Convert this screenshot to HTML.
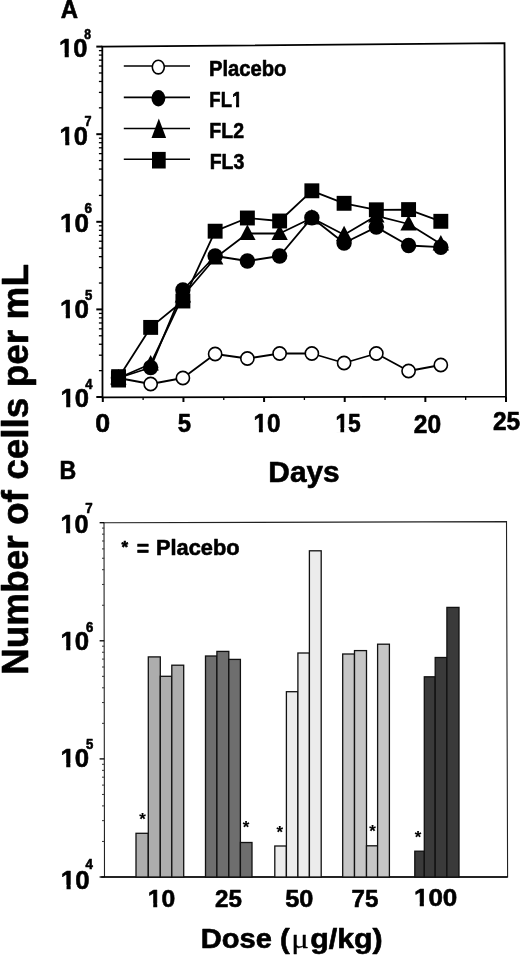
<!DOCTYPE html>
<html lang="en"><head><meta charset="utf-8"><title>Figure</title>
<style>
html,body{margin:0;padding:0;background:#fff;}
svg{display:block;font-family:"Liberation Sans", sans-serif;fill:#000;will-change:transform;}
text{stroke:#000;stroke-width:0.6px;stroke-linejoin:round;}
</style></head>
<body>
<svg width="520" height="956" viewBox="0 0 520 956">
<rect width="520" height="956" fill="#fff"/>
<polygon points="102.3,46.6 504.5,43.2 506.0,396.6 102.5,397.3" fill="none" stroke="#000" stroke-width="1.8"/>
<line x1="96.3" y1="46.6" x2="102.3" y2="46.6" stroke="#000" stroke-width="2"/>
<line x1="98.9" y1="107.83" x2="102.3" y2="107.83" stroke="#000" stroke-width="1.3"/>
<line x1="98.9" y1="92.40" x2="102.3" y2="92.40" stroke="#000" stroke-width="1.3"/>
<line x1="98.9" y1="81.46" x2="102.3" y2="81.46" stroke="#000" stroke-width="1.3"/>
<line x1="98.9" y1="72.97" x2="102.3" y2="72.97" stroke="#000" stroke-width="1.3"/>
<line x1="98.9" y1="66.03" x2="102.3" y2="66.03" stroke="#000" stroke-width="1.3"/>
<line x1="98.9" y1="60.17" x2="102.3" y2="60.17" stroke="#000" stroke-width="1.3"/>
<line x1="98.9" y1="55.09" x2="102.3" y2="55.09" stroke="#000" stroke-width="1.3"/>
<line x1="98.9" y1="50.61" x2="102.3" y2="50.61" stroke="#000" stroke-width="1.3"/>
<line x1="96.3" y1="134.2" x2="102.3" y2="134.2" stroke="#000" stroke-width="2"/>
<line x1="98.9" y1="195.43" x2="102.3" y2="195.43" stroke="#000" stroke-width="1.3"/>
<line x1="98.9" y1="180.00" x2="102.3" y2="180.00" stroke="#000" stroke-width="1.3"/>
<line x1="98.9" y1="169.06" x2="102.3" y2="169.06" stroke="#000" stroke-width="1.3"/>
<line x1="98.9" y1="160.57" x2="102.3" y2="160.57" stroke="#000" stroke-width="1.3"/>
<line x1="98.9" y1="153.63" x2="102.3" y2="153.63" stroke="#000" stroke-width="1.3"/>
<line x1="98.9" y1="147.77" x2="102.3" y2="147.77" stroke="#000" stroke-width="1.3"/>
<line x1="98.9" y1="142.69" x2="102.3" y2="142.69" stroke="#000" stroke-width="1.3"/>
<line x1="98.9" y1="138.21" x2="102.3" y2="138.21" stroke="#000" stroke-width="1.3"/>
<line x1="96.3" y1="221.79999999999998" x2="102.3" y2="221.79999999999998" stroke="#000" stroke-width="2"/>
<line x1="98.9" y1="283.03" x2="102.3" y2="283.03" stroke="#000" stroke-width="1.3"/>
<line x1="98.9" y1="267.60" x2="102.3" y2="267.60" stroke="#000" stroke-width="1.3"/>
<line x1="98.9" y1="256.66" x2="102.3" y2="256.66" stroke="#000" stroke-width="1.3"/>
<line x1="98.9" y1="248.17" x2="102.3" y2="248.17" stroke="#000" stroke-width="1.3"/>
<line x1="98.9" y1="241.23" x2="102.3" y2="241.23" stroke="#000" stroke-width="1.3"/>
<line x1="98.9" y1="235.37" x2="102.3" y2="235.37" stroke="#000" stroke-width="1.3"/>
<line x1="98.9" y1="230.29" x2="102.3" y2="230.29" stroke="#000" stroke-width="1.3"/>
<line x1="98.9" y1="225.81" x2="102.3" y2="225.81" stroke="#000" stroke-width="1.3"/>
<line x1="96.3" y1="309.4" x2="102.3" y2="309.4" stroke="#000" stroke-width="2"/>
<line x1="98.9" y1="370.63" x2="102.3" y2="370.63" stroke="#000" stroke-width="1.3"/>
<line x1="98.9" y1="355.20" x2="102.3" y2="355.20" stroke="#000" stroke-width="1.3"/>
<line x1="98.9" y1="344.26" x2="102.3" y2="344.26" stroke="#000" stroke-width="1.3"/>
<line x1="98.9" y1="335.77" x2="102.3" y2="335.77" stroke="#000" stroke-width="1.3"/>
<line x1="98.9" y1="328.83" x2="102.3" y2="328.83" stroke="#000" stroke-width="1.3"/>
<line x1="98.9" y1="322.97" x2="102.3" y2="322.97" stroke="#000" stroke-width="1.3"/>
<line x1="98.9" y1="317.89" x2="102.3" y2="317.89" stroke="#000" stroke-width="1.3"/>
<line x1="98.9" y1="313.41" x2="102.3" y2="313.41" stroke="#000" stroke-width="1.3"/>
<line x1="96.3" y1="397.0" x2="102.3" y2="397.0" stroke="#000" stroke-width="2"/>
<text x="59.02" y="57.2" font-size="26.0" font-weight="bold" textLength="28.39" lengthAdjust="spacingAndGlyphs">10</text><rect x="59.53" y="53.35" width="5.15" height="5.15" fill="#fff"/><rect x="68.78" y="53.35" width="5.02" height="5.15" fill="#fff"/>
<text x="84.3" y="38.5" font-size="13.8" font-weight="bold" textLength="6.73" lengthAdjust="spacingAndGlyphs">8</text>
<text x="59.62" y="145.0" font-size="26.0" font-weight="bold" textLength="28.28" lengthAdjust="spacingAndGlyphs">10</text><rect x="60.12" y="141.15" width="5.13" height="5.15" fill="#fff"/><rect x="69.34" y="141.15" width="5.01" height="5.15" fill="#fff"/>
<text x="84.5" y="125.6" font-size="13.8" font-weight="bold" textLength="7.01" lengthAdjust="spacingAndGlyphs">7</text>
<text x="60.0" y="231.8" font-size="26.0" font-weight="bold" textLength="28.92" lengthAdjust="spacingAndGlyphs">10</text><rect x="60.54" y="227.95" width="5.23" height="5.15" fill="#fff"/><rect x="69.94" y="227.95" width="5.10" height="5.15" fill="#fff"/>
<text x="84.6" y="213.1" font-size="13.8" font-weight="bold" textLength="7.5" lengthAdjust="spacingAndGlyphs">6</text>
<text x="60.0" y="318.0" font-size="26.0" font-weight="bold" textLength="28.92" lengthAdjust="spacingAndGlyphs">10</text><rect x="60.54" y="314.15" width="5.23" height="5.15" fill="#fff"/><rect x="69.94" y="314.15" width="5.10" height="5.15" fill="#fff"/>
<text x="85.0" y="299.5" font-size="13.8" font-weight="bold" textLength="7.3" lengthAdjust="spacingAndGlyphs">5</text>
<text x="60.51" y="407.2" font-size="26.0" font-weight="bold" textLength="28.49" lengthAdjust="spacingAndGlyphs">10</text><rect x="61.02" y="403.35" width="5.17" height="5.15" fill="#fff"/><rect x="70.30" y="403.35" width="5.04" height="5.15" fill="#fff"/>
<text x="85.3" y="388.9" font-size="13.8" font-weight="bold" textLength="7.21" lengthAdjust="spacingAndGlyphs">4</text>
<line x1="102.80" y1="397.0" x2="102.80" y2="402.0" stroke="#000" stroke-width="2"/>
<line x1="143.12" y1="397.0" x2="143.12" y2="400.0" stroke="#000" stroke-width="1.3"/>
<line x1="183.44" y1="397.0" x2="183.44" y2="402.0" stroke="#000" stroke-width="2"/>
<line x1="223.76" y1="397.0" x2="223.76" y2="400.0" stroke="#000" stroke-width="1.3"/>
<line x1="264.08" y1="397.0" x2="264.08" y2="402.0" stroke="#000" stroke-width="2"/>
<line x1="304.40" y1="397.0" x2="304.40" y2="400.0" stroke="#000" stroke-width="1.3"/>
<line x1="344.72" y1="397.0" x2="344.72" y2="402.0" stroke="#000" stroke-width="2"/>
<line x1="385.04" y1="397.0" x2="385.04" y2="400.0" stroke="#000" stroke-width="1.3"/>
<line x1="425.36" y1="397.0" x2="425.36" y2="402.0" stroke="#000" stroke-width="2"/>
<line x1="465.68" y1="397.0" x2="465.68" y2="400.0" stroke="#000" stroke-width="1.3"/>
<line x1="506.00" y1="397.0" x2="506.00" y2="402.0" stroke="#000" stroke-width="2"/>
<text x="95.24" y="432.4" font-size="25.2" font-weight="bold" textLength="14.88" lengthAdjust="spacingAndGlyphs">0</text>
<text x="177.8" y="432.4" font-size="25.2" font-weight="bold" textLength="13.31" lengthAdjust="spacingAndGlyphs">5</text>
<text x="253.54" y="432.2" font-size="25.2" font-weight="bold" textLength="26.99" lengthAdjust="spacingAndGlyphs">10</text><rect x="253.97" y="428.43" width="4.94" height="5.07" fill="#fff"/><rect x="262.83" y="428.43" width="4.83" height="5.07" fill="#fff"/>
<text x="335.39" y="431.6" font-size="25.2" font-weight="bold" textLength="25.44" lengthAdjust="spacingAndGlyphs">15</text><rect x="335.73" y="427.83" width="4.70" height="5.07" fill="#fff"/><rect x="344.16" y="427.83" width="4.61" height="5.07" fill="#fff"/>
<text x="413.8" y="433.4" font-size="25.2" font-weight="bold" textLength="27.33" lengthAdjust="spacingAndGlyphs">20</text>
<text x="493.0" y="430.4" font-size="25.2" font-weight="bold" textLength="27.23" lengthAdjust="spacingAndGlyphs">25</text>
<text x="268.36" y="482.2" font-size="28.8" font-weight="bold" textLength="71.31" lengthAdjust="spacingAndGlyphs">Days</text>
<text x="60.8" y="17.8" font-size="25.2" font-weight="bold" textLength="17.29" lengthAdjust="spacingAndGlyphs">A</text>
<line x1="123.8" y1="66.0" x2="190" y2="66.0" stroke="#000" stroke-width="1.6"/>
<line x1="123.8" y1="97.4" x2="190" y2="97.4" stroke="#000" stroke-width="1.6"/>
<line x1="123.8" y1="128.5" x2="190" y2="128.5" stroke="#000" stroke-width="1.6"/>
<line x1="123.8" y1="159.2" x2="190" y2="159.2" stroke="#000" stroke-width="1.6"/>
<ellipse cx="158.3" cy="67.1" rx="6.0" ry="6.8" fill="#fff" stroke="#000" stroke-width="1.6"/>
<ellipse cx="158.4" cy="98.2" rx="6.9" ry="8.2" fill="#000"/>
<polygon points="158.8,118.5 151.5,138 166.1,138" fill="#000"/>
<rect x="152.0" y="151.9" width="13.7" height="16.6" fill="#000"/>
<text x="208.97" y="76.2" font-size="21.8" font-weight="bold" textLength="77.48" lengthAdjust="spacingAndGlyphs">Placebo</text>
<text x="209.35" y="107.2" font-size="21.8" font-weight="bold" textLength="32.95" lengthAdjust="spacingAndGlyphs">FL1</text><rect x="232.05" y="103.78" width="3.96" height="4.72" fill="#fff"/><rect x="239.15" y="103.78" width="3.92" height="4.72" fill="#fff"/>
<text x="209.31" y="138.0" font-size="21.8" font-weight="bold" textLength="34.69" lengthAdjust="spacingAndGlyphs">FL2</text>
<text x="209.71" y="169.0" font-size="21.8" font-weight="bold" textLength="34.69" lengthAdjust="spacingAndGlyphs">FL3</text>
<polyline points="118.42,378.00 150.66,384.00 182.90,378.00 215.14,354.00 247.38,358.50 279.62,353.50 311.86,353.50 344.10,363.00 376.34,353.50 408.58,371.00 440.82,365.00" fill="none" stroke="#000" stroke-width="1.8" stroke-linejoin="round"/>
<polyline points="118.42,378.00 150.66,367.50 182.90,290.00 215.14,256.00 247.38,261.00 279.62,256.00 311.86,217.70 344.10,243.00 376.34,227.10 408.58,245.50 440.82,247.20" fill="none" stroke="#000" stroke-width="1.8" stroke-linejoin="round"/>
<polyline points="118.42,378.00 150.66,364.00 182.90,296.00 215.14,258.00 247.38,233.50 279.62,233.50 311.86,218.00 344.10,234.70 376.34,215.80 408.58,224.00 440.82,244.00" fill="none" stroke="#000" stroke-width="1.8" stroke-linejoin="round"/>
<polyline points="118.42,378.00 150.66,327.40 182.90,301.00 215.14,231.20 247.38,218.00 279.62,221.00 311.86,190.80 344.10,203.30 376.34,209.80 408.58,209.60 440.82,221.30" fill="none" stroke="#000" stroke-width="1.8" stroke-linejoin="round"/>
<circle cx="118.42" cy="378.00" r="6.60" fill="#fff" stroke="#000" stroke-width="1.6"/>
<circle cx="150.66" cy="384.00" r="6.60" fill="#fff" stroke="#000" stroke-width="1.6"/>
<circle cx="182.90" cy="378.00" r="6.60" fill="#fff" stroke="#000" stroke-width="1.6"/>
<circle cx="215.14" cy="354.00" r="6.60" fill="#fff" stroke="#000" stroke-width="1.6"/>
<circle cx="247.38" cy="358.50" r="6.60" fill="#fff" stroke="#000" stroke-width="1.6"/>
<circle cx="279.62" cy="353.50" r="6.60" fill="#fff" stroke="#000" stroke-width="1.6"/>
<circle cx="311.86" cy="353.50" r="6.60" fill="#fff" stroke="#000" stroke-width="1.6"/>
<circle cx="344.10" cy="363.00" r="6.60" fill="#fff" stroke="#000" stroke-width="1.6"/>
<circle cx="376.34" cy="353.50" r="6.60" fill="#fff" stroke="#000" stroke-width="1.6"/>
<circle cx="408.58" cy="371.00" r="6.60" fill="#fff" stroke="#000" stroke-width="1.6"/>
<circle cx="440.82" cy="365.00" r="6.60" fill="#fff" stroke="#000" stroke-width="1.6"/>
<circle cx="118.42" cy="378.00" r="7.70" fill="#000"/>
<circle cx="150.66" cy="367.50" r="7.70" fill="#000"/>
<circle cx="182.90" cy="290.00" r="7.70" fill="#000"/>
<circle cx="215.14" cy="256.00" r="7.70" fill="#000"/>
<circle cx="247.38" cy="261.00" r="7.70" fill="#000"/>
<circle cx="279.62" cy="256.00" r="7.70" fill="#000"/>
<circle cx="311.86" cy="217.70" r="7.70" fill="#000"/>
<circle cx="344.10" cy="243.00" r="7.70" fill="#000"/>
<circle cx="376.34" cy="227.10" r="7.70" fill="#000"/>
<circle cx="408.58" cy="245.50" r="7.70" fill="#000"/>
<circle cx="440.82" cy="247.20" r="7.70" fill="#000"/>
<polygon points="118.42,369.00 110.22,384.60 126.62,384.60" fill="#000"/>
<polygon points="150.66,355.00 142.46,370.60 158.86,370.60" fill="#000"/>
<polygon points="182.90,287.00 174.70,302.60 191.10,302.60" fill="#000"/>
<polygon points="215.14,249.00 206.94,264.60 223.34,264.60" fill="#000"/>
<polygon points="247.38,224.50 239.18,240.10 255.58,240.10" fill="#000"/>
<polygon points="279.62,224.50 271.42,240.10 287.82,240.10" fill="#000"/>
<polygon points="311.86,209.00 303.66,224.60 320.06,224.60" fill="#000"/>
<polygon points="344.10,225.70 335.90,241.30 352.30,241.30" fill="#000"/>
<polygon points="376.34,206.80 368.14,222.40 384.54,222.40" fill="#000"/>
<polygon points="408.58,215.00 400.38,230.60 416.78,230.60" fill="#000"/>
<polygon points="440.82,235.00 432.62,250.60 449.02,250.60" fill="#000"/>
<rect x="110.97" y="370.55" width="14.9" height="14.9" fill="#000"/>
<rect x="143.21" y="319.95" width="14.9" height="14.9" fill="#000"/>
<rect x="175.45" y="293.55" width="14.9" height="14.9" fill="#000"/>
<rect x="207.69" y="223.75" width="14.9" height="14.9" fill="#000"/>
<rect x="239.93" y="210.55" width="14.9" height="14.9" fill="#000"/>
<rect x="272.17" y="213.55" width="14.9" height="14.9" fill="#000"/>
<rect x="304.41" y="183.35" width="14.9" height="14.9" fill="#000"/>
<rect x="336.65" y="195.85" width="14.9" height="14.9" fill="#000"/>
<rect x="368.89" y="202.35" width="14.9" height="14.9" fill="#000"/>
<rect x="401.13" y="202.15" width="14.9" height="14.9" fill="#000"/>
<rect x="433.37" y="213.85" width="14.9" height="14.9" fill="#000"/>
<rect x="111.2" y="369.2" width="14.8" height="18.3" fill="#000"/>
<text transform="translate(28.3,675) rotate(-90)" font-size="36.5" font-weight="bold" textLength="411" lengthAdjust="spacingAndGlyphs">Number of cells per mL</text>
<polygon points="104.0,522.8 506.5,521.6 507.6,877.0 104.5,877.0" fill="none" stroke="#222" stroke-width="1.1"/>
<line x1="101.2" y1="877.0" x2="507.6" y2="877.0" stroke="#000" stroke-width="1.6"/>
<line x1="99.60000000000001" y1="522.70" x2="104.2" y2="522.70" stroke="#000" stroke-width="1.3"/>
<line x1="102.0" y1="605.25" x2="104.2" y2="605.25" stroke="#333" stroke-width="1"/>
<line x1="102.0" y1="584.45" x2="104.2" y2="584.45" stroke="#333" stroke-width="1"/>
<line x1="102.0" y1="569.70" x2="104.2" y2="569.70" stroke="#333" stroke-width="1"/>
<line x1="102.0" y1="558.25" x2="104.2" y2="558.25" stroke="#333" stroke-width="1"/>
<line x1="102.0" y1="548.90" x2="104.2" y2="548.90" stroke="#333" stroke-width="1"/>
<line x1="102.0" y1="540.99" x2="104.2" y2="540.99" stroke="#333" stroke-width="1"/>
<line x1="102.0" y1="534.15" x2="104.2" y2="534.15" stroke="#333" stroke-width="1"/>
<line x1="102.0" y1="528.10" x2="104.2" y2="528.10" stroke="#333" stroke-width="1"/>
<line x1="99.60000000000001" y1="640.80" x2="104.2" y2="640.80" stroke="#000" stroke-width="1.3"/>
<line x1="102.0" y1="723.35" x2="104.2" y2="723.35" stroke="#333" stroke-width="1"/>
<line x1="102.0" y1="702.55" x2="104.2" y2="702.55" stroke="#333" stroke-width="1"/>
<line x1="102.0" y1="687.80" x2="104.2" y2="687.80" stroke="#333" stroke-width="1"/>
<line x1="102.0" y1="676.35" x2="104.2" y2="676.35" stroke="#333" stroke-width="1"/>
<line x1="102.0" y1="667.00" x2="104.2" y2="667.00" stroke="#333" stroke-width="1"/>
<line x1="102.0" y1="659.09" x2="104.2" y2="659.09" stroke="#333" stroke-width="1"/>
<line x1="102.0" y1="652.25" x2="104.2" y2="652.25" stroke="#333" stroke-width="1"/>
<line x1="102.0" y1="646.20" x2="104.2" y2="646.20" stroke="#333" stroke-width="1"/>
<line x1="99.60000000000001" y1="758.90" x2="104.2" y2="758.90" stroke="#000" stroke-width="1.3"/>
<line x1="102.0" y1="841.45" x2="104.2" y2="841.45" stroke="#333" stroke-width="1"/>
<line x1="102.0" y1="820.65" x2="104.2" y2="820.65" stroke="#333" stroke-width="1"/>
<line x1="102.0" y1="805.90" x2="104.2" y2="805.90" stroke="#333" stroke-width="1"/>
<line x1="102.0" y1="794.45" x2="104.2" y2="794.45" stroke="#333" stroke-width="1"/>
<line x1="102.0" y1="785.10" x2="104.2" y2="785.10" stroke="#333" stroke-width="1"/>
<line x1="102.0" y1="777.19" x2="104.2" y2="777.19" stroke="#333" stroke-width="1"/>
<line x1="102.0" y1="770.35" x2="104.2" y2="770.35" stroke="#333" stroke-width="1"/>
<line x1="102.0" y1="764.30" x2="104.2" y2="764.30" stroke="#333" stroke-width="1"/>
<line x1="99.60000000000001" y1="877.00" x2="104.2" y2="877.00" stroke="#000" stroke-width="1.3"/>
<text x="60.53" y="532.8" font-size="26.0" font-weight="bold" textLength="28.06" lengthAdjust="spacingAndGlyphs">10</text><rect x="61.02" y="528.95" width="5.10" height="5.15" fill="#fff"/><rect x="70.18" y="528.95" width="4.98" height="5.15" fill="#fff"/>
<text x="85.2" y="513.4" font-size="13.8" font-weight="bold" textLength="7.4" lengthAdjust="spacingAndGlyphs">7</text>
<text x="60.51" y="650.0" font-size="26.0" font-weight="bold" textLength="28.71" lengthAdjust="spacingAndGlyphs">10</text><rect x="61.04" y="646.15" width="5.20" height="5.15" fill="#fff"/><rect x="70.37" y="646.15" width="5.07" height="5.15" fill="#fff"/>
<text x="86.1" y="631.9" font-size="13.8" font-weight="bold" textLength="7.3" lengthAdjust="spacingAndGlyphs">6</text>
<text x="60.51" y="766.9" font-size="26.0" font-weight="bold" textLength="28.71" lengthAdjust="spacingAndGlyphs">10</text><rect x="61.04" y="763.05" width="5.20" height="5.15" fill="#fff"/><rect x="70.37" y="763.05" width="5.07" height="5.15" fill="#fff"/>
<text x="86.0" y="748.8" font-size="13.8" font-weight="bold" textLength="7.3" lengthAdjust="spacingAndGlyphs">5</text>
<text x="60.81" y="888.6" font-size="26.0" font-weight="bold" textLength="28.71" lengthAdjust="spacingAndGlyphs">10</text><rect x="61.34" y="884.75" width="5.20" height="5.15" fill="#fff"/><rect x="70.67" y="884.75" width="5.07" height="5.15" fill="#fff"/>
<text x="85.4" y="869.0" font-size="13.8" font-weight="bold" textLength="7.4" lengthAdjust="spacingAndGlyphs">4</text>
<text x="59.49" y="478.6" font-size="25.6" font-weight="bold" textLength="16.74" lengthAdjust="spacingAndGlyphs">B</text>
<text x="121.5" y="552.6" font-size="17" font-weight="bold" textLength="6.62" lengthAdjust="spacingAndGlyphs">*</text>
<text x="136.8" y="555.9" font-size="21.5" font-weight="bold" textLength="12.35" lengthAdjust="spacingAndGlyphs">=</text>
<text x="156.0" y="554.9" font-size="21.8" font-weight="bold" textLength="83.49" lengthAdjust="spacingAndGlyphs">Placebo</text>
<rect x="136.0" y="833.3" width="12.30" height="43.70" fill="#adadad" stroke="#111" stroke-width="1.3"/>
<rect x="148.3" y="656.9" width="12.00" height="220.10" fill="#adadad" stroke="#111" stroke-width="1.3"/>
<rect x="160.3" y="676.3" width="11.50" height="200.70" fill="#adadad" stroke="#111" stroke-width="1.3"/>
<rect x="171.8" y="665.2" width="11.90" height="211.80" fill="#adadad" stroke="#111" stroke-width="1.3"/>
<rect x="205.5" y="656.0" width="11.40" height="221.00" fill="#6e6e6e" stroke="#111" stroke-width="1.3"/>
<rect x="216.9" y="651.4" width="11.90" height="225.60" fill="#6e6e6e" stroke="#111" stroke-width="1.3"/>
<rect x="228.8" y="659.4" width="11.60" height="217.60" fill="#6e6e6e" stroke="#111" stroke-width="1.3"/>
<rect x="240.4" y="842.5" width="11.60" height="34.50" fill="#6e6e6e" stroke="#111" stroke-width="1.3"/>
<rect x="274.8" y="846.0" width="11.60" height="31.00" fill="#ececec" stroke="#111" stroke-width="1.3"/>
<rect x="286.4" y="691.7" width="11.50" height="185.30" fill="#ececec" stroke="#111" stroke-width="1.3"/>
<rect x="297.9" y="653.0" width="11.50" height="224.00" fill="#ececec" stroke="#111" stroke-width="1.3"/>
<rect x="309.4" y="550.8" width="11.80" height="326.20" fill="#ececec" stroke="#111" stroke-width="1.3"/>
<rect x="342.7" y="654.0" width="11.80" height="223.00" fill="#c6c6c6" stroke="#111" stroke-width="1.3"/>
<rect x="354.5" y="650.6" width="12.00" height="226.40" fill="#c6c6c6" stroke="#111" stroke-width="1.3"/>
<rect x="366.5" y="845.8" width="11.10" height="31.20" fill="#c6c6c6" stroke="#111" stroke-width="1.3"/>
<rect x="377.6" y="644.2" width="11.80" height="232.80" fill="#c6c6c6" stroke="#111" stroke-width="1.3"/>
<rect x="414.8" y="851.2" width="9.50" height="25.80" fill="#3a3a3a" stroke="#111" stroke-width="1.3"/>
<rect x="424.3" y="676.8" width="10.90" height="200.20" fill="#3a3a3a" stroke="#111" stroke-width="1.3"/>
<rect x="435.2" y="657.5" width="11.70" height="219.50" fill="#3a3a3a" stroke="#111" stroke-width="1.3"/>
<rect x="446.9" y="607.4" width="12.10" height="269.60" fill="#3a3a3a" stroke="#111" stroke-width="1.3"/>
<text x="142.5" y="825.4" font-size="16.8" font-weight="bold" text-anchor="middle" style="stroke-width:0.15px">*</text>
<text x="246.1" y="833.3" font-size="16.8" font-weight="bold" text-anchor="middle" style="stroke-width:0.15px">*</text>
<text x="279.8" y="838.0" font-size="16.8" font-weight="bold" text-anchor="middle" style="stroke-width:0.15px">*</text>
<text x="372.5" y="837.0" font-size="16.8" font-weight="bold" text-anchor="middle" style="stroke-width:0.15px">*</text>
<text x="418.0" y="842.7" font-size="16.8" font-weight="bold" text-anchor="middle" style="stroke-width:0.15px">*</text>
<text x="147.79" y="907.0" font-size="24.4" font-weight="bold" textLength="27.45" lengthAdjust="spacingAndGlyphs">10</text><rect x="148.24" y="903.31" width="5.01" height="4.99" fill="#fff"/><rect x="157.24" y="903.31" width="4.89" height="4.99" fill="#fff"/>
<text x="215.0" y="907.0" font-size="24.4" font-weight="bold" textLength="26.94" lengthAdjust="spacingAndGlyphs">25</text>
<text x="285.16" y="907.0" font-size="24.4" font-weight="bold" textLength="28.18" lengthAdjust="spacingAndGlyphs">50</text>
<text x="351.61" y="907.0" font-size="24.4" font-weight="bold" textLength="26.83" lengthAdjust="spacingAndGlyphs">75</text>
<text x="413.93" y="906.2" font-size="24.4" font-weight="bold" textLength="43.42" lengthAdjust="spacingAndGlyphs">100</text><rect x="414.47" y="902.51" width="5.24" height="4.99" fill="#fff"/><rect x="423.88" y="902.51" width="5.10" height="4.99" fill="#fff"/>
<text x="200.8" y="947.7" font-size="26.8" font-weight="bold" text-anchor="start" textLength="89.0" lengthAdjust="spacingAndGlyphs" >Dose (</text>
<text x="291.2" y="947.7" font-size="28" font-family="'Liberation Serif', serif" font-weight="normal" textLength="17.6" lengthAdjust="spacingAndGlyphs" style="stroke-width:0.3px">μ</text>
<text x="310.2" y="947.7" font-size="26.8" font-weight="bold" text-anchor="start" textLength="72.5" lengthAdjust="spacingAndGlyphs" >g/kg)</text>
</svg>
</body></html>
